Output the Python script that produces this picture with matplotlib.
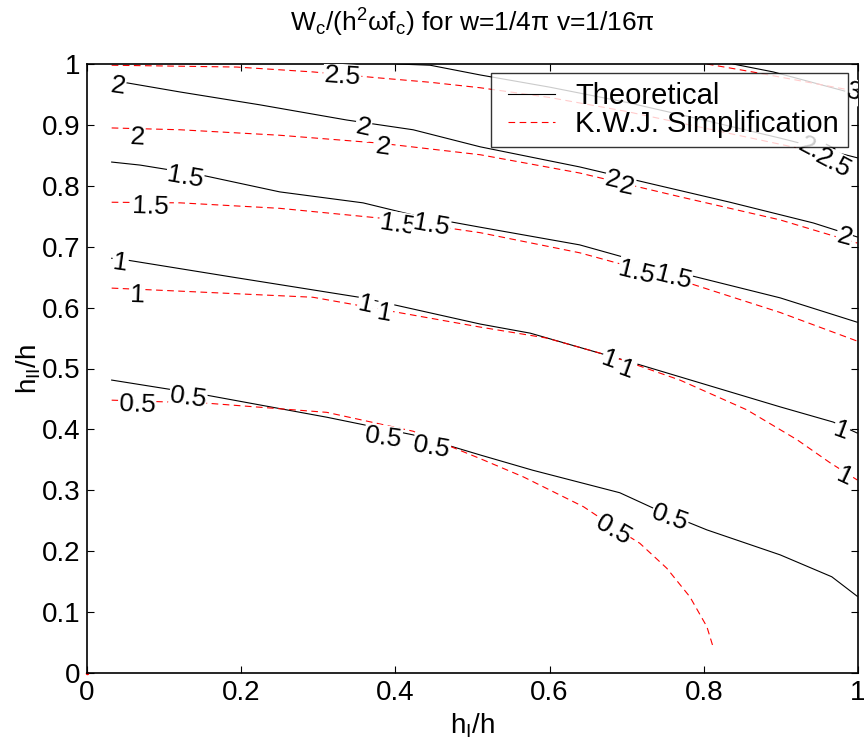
import matplotlib
matplotlib.use("Agg")
import matplotlib.pyplot as plt
from matplotlib.legend_handler import HandlerLine2D
from matplotlib.lines import Line2D

plt.rcParams['font.family'] = ['Liberation Sans', 'DejaVu Sans']
plt.rcParams['mathtext.fontset'] = 'custom'
plt.rcParams['mathtext.rm'] = 'Liberation Sans'
plt.rcParams['mathtext.it'] = 'Liberation Sans:italic'

# ---- data: contour lines ----
# Theoretical (black solid)
th_05_x = [0.032, 0.156, 0.311, 0.423, 0.510, 0.578, 0.691, 0.734, 0.804, 0.899, 0.966, 0.999]
th_05_y = [0.481, 0.456, 0.420, 0.391, 0.358, 0.333, 0.296, 0.271, 0.235, 0.194, 0.158, 0.126]
th_10_x = [0.032, 0.052, 0.189, 0.358, 0.510, 0.575, 0.704, 0.812, 0.899, 0.968, 0.999]
th_10_y = [0.681, 0.678, 0.650, 0.616, 0.573, 0.558, 0.511, 0.470, 0.437, 0.412, 0.394]
th_15_x = [0.032, 0.069, 0.147, 0.250, 0.358, 0.423, 0.510, 0.639, 0.769, 0.899, 0.999]
th_15_y = [0.839, 0.834, 0.818, 0.790, 0.772, 0.752, 0.732, 0.703, 0.657, 0.616, 0.576]
th_20_x = [0.032, 0.052, 0.121, 0.224, 0.337, 0.423, 0.510, 0.639, 0.726, 0.834, 0.942, 0.999]
th_20_y = [0.969, 0.969, 0.954, 0.933, 0.908, 0.892, 0.864, 0.831, 0.805, 0.773, 0.739, 0.716]
th_25_x = [0.402, 0.445, 0.510, 0.600, 0.700, 0.800, 0.900, 0.999]
th_25_y = [1.000, 0.998, 0.982, 0.962, 0.937, 0.908, 0.878, 0.846]
th_30_x = [0.838, 0.890, 0.999]
th_30_y = [1.000, 0.987, 0.950]

# K.W.J. Simplification (red dashed)
kw_05_x = [0.032, 0.156, 0.311, 0.423, 0.510, 0.566, 0.644, 0.683, 0.717, 0.752, 0.782, 0.804, 0.812]
kw_05_y = [0.448, 0.443, 0.428, 0.397, 0.352, 0.322, 0.273, 0.240, 0.213, 0.172, 0.125, 0.076, 0.043]
kw_10_x = [0.032, 0.121, 0.293, 0.510, 0.596, 0.683, 0.769, 0.856, 0.921, 0.964, 0.999]
kw_10_y = [0.632, 0.627, 0.617, 0.568, 0.550, 0.519, 0.481, 0.432, 0.383, 0.345, 0.317]
kw_15_x = [0.032, 0.121, 0.250, 0.380, 0.510, 0.639, 0.769, 0.899, 0.999]
kw_15_y = [0.773, 0.772, 0.763, 0.747, 0.723, 0.690, 0.645, 0.592, 0.545]
kw_20_x = [0.032, 0.121, 0.250, 0.380, 0.510, 0.639, 0.769, 0.899, 0.999]
kw_20_y = [0.895, 0.892, 0.883, 0.870, 0.851, 0.821, 0.782, 0.744, 0.706]
kw_25_x = [0.032, 0.194, 0.293, 0.380, 0.445, 0.510, 0.600, 0.700, 0.800, 0.922, 0.999]
kw_25_y = [0.998, 0.995, 0.987, 0.977, 0.970, 0.961, 0.945, 0.922, 0.895, 0.862, 0.837]
kw_30_x = [0.804, 0.863, 0.999]
kw_30_y = [1.000, 0.987, 0.955]

# contour labels: text, x, y, rotation
lab_text = ["2", "2.5", "2", "2", "2", "1.5", "1.5", "1.5", "1.5", "1", "1", "1", "1",
            "0.5", "0.5", "0.5", "0.5", "2", "2", "2", "1.5", "1.5", "2.5", "2.5", "3",
            "1", "1", "1", "1", "0.5", "0.5"]
lab_x = [0.040, 0.331, 0.358, 0.384, 0.065, 0.127, 0.082, 0.403, 0.447, 0.043, 0.065, 0.361, 0.386,
         0.065, 0.131, 0.384, 0.447, 0.682, 0.700, 0.982, 0.713, 0.760, 0.945, 0.968, 0.994,
         0.678, 0.700, 0.978, 0.982, 0.682, 0.756]
lab_y = [0.964, 0.979, 0.895, 0.864, 0.880, 0.814, 0.765, 0.736, 0.736, 0.673, 0.621, 0.604, 0.591,
         0.440, 0.452, 0.386, 0.371, 0.810, 0.798, 0.716, 0.658, 0.649, 0.857, 0.837, 0.954,
         0.514, 0.498, 0.398, 0.322, 0.235, 0.255]
lab_rot = [-8, -4, -12, -8, -3, -10, -2, -9, -10, -8, -2, -12, -10,
           -2, -8, -8, -10, -13, -12, -15, -14, -14, -28, -28, -15,
           -20, -20, -20, -25, -30, -20]

fig = plt.figure(figsize=(8.64, 7.46), dpi=100)
ax = fig.add_axes([87/864, 73/746, (858-87)/864, (673-64)/746])

th_sets = [(th_05_x, th_05_y), (th_10_x, th_10_y), (th_15_x, th_15_y),
           (th_20_x, th_20_y), (th_25_x, th_25_y), (th_30_x, th_30_y)]
kw_sets = [(kw_05_x, kw_05_y), (kw_10_x, kw_10_y), (kw_15_x, kw_15_y),
           (kw_20_x, kw_20_y), (kw_25_x, kw_25_y), (kw_30_x, kw_30_y)]

for i, (xs, ys) in enumerate(th_sets):
    ax.plot(xs, ys, color='black', lw=0.8, label='Theoretical' if i == 0 else None)
for i, (xs, ys) in enumerate(kw_sets):
    ax.plot(xs, ys, color='red', lw=0.8, dashes=(6, 4),
            label='K.W.J. Simplification' if i == 0 else None)
ax.plot([0], [0], marker='.', color='red', markersize=3, clip_on=False)

for t, x, y, r in zip(lab_text, lab_x, lab_y, lab_rot):
    ax.text(x, y, t, rotation=r, fontsize=19, ha='center', va='center',
            rotation_mode='anchor', clip_on=True, zorder=3,
            bbox=dict(facecolor='white', edgecolor='none', pad=0.5))

ax.set_xlim(0, 1)
ax.set_ylim(0, 1)
ax.set_xticks([0, 0.2, 0.4, 0.6, 0.8, 1])
ax.set_xticklabels(['0', '0.2', '0.4', '0.6', '0.8', '1'])
ax.set_yticks([0, 0.1, 0.2, 0.3, 0.4, 0.5, 0.6, 0.7, 0.8, 0.9, 1])
ax.set_yticklabels(['0', '0.1', '0.2', '0.3', '0.4', '0.5', '0.6', '0.7', '0.8', '0.9', '1'])
ax.tick_params(direction='in', length=5, width=0.8, labelsize=20, top=True, right=True, pad=5)
for s in ax.spines.values():
    s.set_linewidth(1.2)

ax.set_xlabel(r'h$_\mathrm{I}$/h', fontsize=20, labelpad=4)
ax.set_ylabel(r'h$_\mathrm{II}$/h', fontsize=20, labelpad=-1)
ax.set_title(r'W$_\mathrm{c}$/(h$^2$ωf$_\mathrm{c}$) for w=1/4π v=1/16π', fontsize=19, pad=23)

leg = ax.legend(loc='upper right', bbox_to_anchor=(0.987, 0.985), borderaxespad=0,
                fontsize=21, frameon=True, fancybox=False, edgecolor='black',
                handlelength=1.92, handletextpad=0.69, labelspacing=0.0, borderpad=0.3,
                handler_map={Line2D: HandlerLine2D(xpad=0.3)})
leg.get_frame().set_linewidth(1.0)
leg.set_zorder(10)

fig.savefig('out.png', dpi=100)
